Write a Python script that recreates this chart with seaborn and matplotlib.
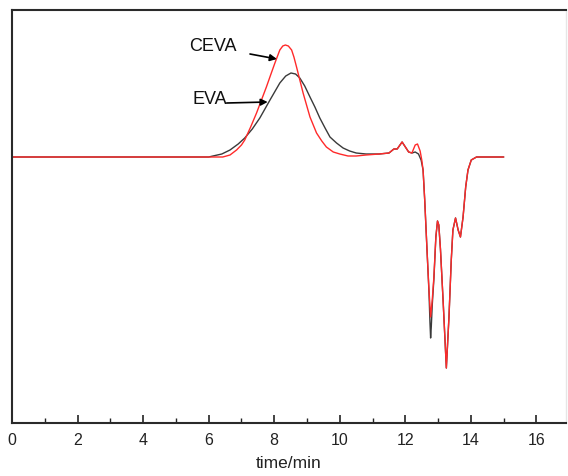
import matplotlib
matplotlib.use("Agg")
import matplotlib.pyplot as plt
import seaborn as sns
import pandas as pd
from matplotlib.ticker import MultipleLocator

# ---- data (time in min, detector signal in arbitrary units) ----
eva_time = [0, 6.0, 6.13, 6.4, 6.65, 6.9, 7.1, 7.33, 7.56, 7.87, 8.17, 8.35, 8.51, 8.65,
            8.78, 8.93, 9.09, 9.24, 9.39, 9.55, 9.7, 9.9, 10.1, 10.3, 10.5, 10.8, 11.2,
            11.5, 11.65, 11.75, 11.9, 12.0, 12.1, 12.2, 12.3, 12.4, 12.48, 12.54, 12.59,
            12.66, 12.72, 12.75, 12.77, 12.79, 12.82, 12.87, 12.93, 12.98, 13.02, 13.07,
            13.15, 13.25, 13.33, 13.40, 13.45, 13.53, 13.61, 13.68, 13.76, 13.84, 13.91,
            14.01, 14.17, 15.0]
eva_signal = [0, 0, 1, 3, 7, 13, 19, 28, 39, 57, 74, 81, 84, 83,
              79, 71, 60, 50, 39, 29, 20, 14, 9, 6, 4, 3, 3,
              4, 8, 8, 15, 10, 5, 4, 5, 3, -3, -13, -43,
              -93, -135, -165, -181, -170, -148, -122, -80, -64, -68, -92,
              -143, -211, -160, -103, -73, -61, -73, -80, -60, -30, -13,
              -3, 0, 0]

ceva_time = [0, 6.43, 6.65, 6.85, 7.0, 7.1, 7.28, 7.46, 7.61, 7.76, 7.9, 8.02, 8.17,
             8.26, 8.34, 8.43, 8.53, 8.6, 8.68, 8.78, 8.88, 9.09, 9.29, 9.45, 9.59, 9.8,
             10.0, 10.25, 10.5, 10.8, 11.2, 11.5, 11.65, 11.75, 11.9, 12.0, 12.1, 12.2,
             12.3, 12.37, 12.45, 12.5, 12.54, 12.59, 12.66, 12.72, 12.77, 12.82, 12.87,
             12.93, 12.98, 13.02, 13.07, 13.15, 13.25, 13.33, 13.40, 13.45, 13.53, 13.61,
             13.68, 13.76, 13.84, 13.91, 14.01, 14.17, 15.0]
ceva_signal = [0, 0, 2, 7, 12, 17, 30, 44, 57, 70, 83, 94, 107,
               111, 112, 111, 107, 100, 90, 77, 64, 40, 24, 16, 10, 5,
               3, 1, 1, 2, 3, 4, 8, 8, 15, 10, 5, 4,
               12, 13, 6, -3, -13, -43, -93, -133, -160, -143, -120,
               -80, -64, -68, -92, -143, -211, -160, -103, -73, -61, -73,
               -80, -60, -30, -13, -3, 0, 0]

series_names = ["EVA", "CEVA"]
series_colors = ["#3a3a3a", "#ff2a2a"]
x_ticks = [0, 2, 4, 6, 8, 10, 12, 14, 16]
x_label = "time/min"

df = pd.concat([
    pd.DataFrame({"time": eva_time, "signal": eva_signal, "sample": "EVA"}),
    pd.DataFrame({"time": ceva_time, "signal": ceva_signal, "sample": "CEVA"}),
], ignore_index=True)

sns.set_style("ticks")
plt.rcParams["font.family"] = ["Liberation Sans", "DejaVu Sans"]

fig = plt.figure(figsize=(5.68, 4.76), dpi=100)
ax = fig.add_axes([12 / 568, 1 - 423 / 476, 554 / 568, (423 - 10) / 476])

sns.lineplot(data=df, x="time", y="signal", hue="sample", hue_order=series_names,
             palette=dict(zip(series_names, series_colors)), estimator=None,
             sort=False, linewidth=1.0, legend=False, ax=ax)

ax.set_xlim(0, 16.9)
ax.set_ylim(-266, 147)
ax.set_xticks(x_ticks)
ax.set_xticklabels([str(t) for t in x_ticks], fontsize=11.5)
ax.xaxis.set_minor_locator(MultipleLocator(1))
ax.tick_params(axis="x", which="major", direction="in", length=6, width=1.2,
               pad=7, colors="#222222")
ax.tick_params(axis="x", which="minor", direction="in", length=3.5, width=1.0,
               colors="#222222")
ax.set_yticks([])
ax.set_ylabel("")
ax.set_xlabel(x_label, fontsize=12.5, labelpad=6, color="#222222")

for side in ["left", "bottom", "top"]:
    ax.spines[side].set_linewidth(1.5)
    ax.spines[side].set_color("#2a2a2a")
ax.spines["right"].set_linewidth(1.0)
ax.spines["right"].set_color("#e6e6e6")

# annotations
ax.text(6.13, 110, "CEVA", fontsize=13, ha="center", va="center", color="#111111")
ax.annotate("", xy=(8.08, 98), xytext=(7.26, 103),
            arrowprops=dict(arrowstyle="-|>", color="black", lw=1.2,
                            mutation_scale=10, shrinkA=0, shrinkB=0))
ax.text(6.04, 57, "EVA", fontsize=13, ha="center", va="center", color="#111111")
ax.annotate("", xy=(7.8, 55), xytext=(6.55, 54),
            arrowprops=dict(arrowstyle="-|>", color="black", lw=1.2,
                            mutation_scale=10, shrinkA=0, shrinkB=0))

fig.savefig("out.png", dpi=100)
